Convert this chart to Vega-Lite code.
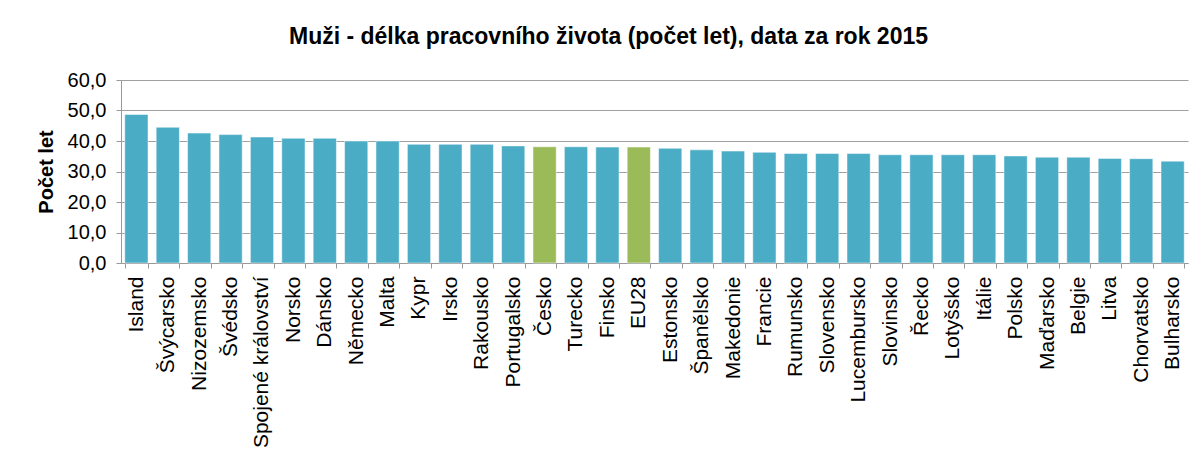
{
  "$schema": "https://vega.github.io/schema/vega-lite/v6.json",
  "autosize": {"type": "none"},
  "padding": {"left": 121, "top": 80, "right": 13, "bottom": 192},
  "width": 1067,
  "height": 183,
  "background": "white",
  "title": {
    "text": "Muži - délka pracovního života (počet let), data za rok 2015",
    "font": "Liberation Sans",
    "fontSize": 23,
    "fontWeight": "bold",
    "color": "#000000",
    "anchor": "middle",
    "baseline": "alphabetic",
    "offset": 3,
    "dx": -46
  },
  "data": {
    "values": [
      {"zeme": "Island", "roky": 48.7, "skupina": "ostatni"},
      {"zeme": "Švýcarsko", "roky": 44.5, "skupina": "ostatni"},
      {"zeme": "Nizozemsko", "roky": 42.6, "skupina": "ostatni"},
      {"zeme": "Švédsko", "roky": 42.1, "skupina": "ostatni"},
      {"zeme": "Spojené království", "roky": 41.3, "skupina": "ostatni"},
      {"zeme": "Norsko", "roky": 40.9, "skupina": "ostatni"},
      {"zeme": "Dánsko", "roky": 40.9, "skupina": "ostatni"},
      {"zeme": "Německo", "roky": 40.0, "skupina": "ostatni"},
      {"zeme": "Malta", "roky": 40.0, "skupina": "ostatni"},
      {"zeme": "Kypr", "roky": 38.9, "skupina": "ostatni"},
      {"zeme": "Irsko", "roky": 38.9, "skupina": "ostatni"},
      {"zeme": "Rakousko", "roky": 38.9, "skupina": "ostatni"},
      {"zeme": "Portugalsko", "roky": 38.4, "skupina": "ostatni"},
      {"zeme": "Česko", "roky": 38.1, "skupina": "zvyrazneno"},
      {"zeme": "Turecko", "roky": 38.1, "skupina": "ostatni"},
      {"zeme": "Finsko", "roky": 38.0, "skupina": "ostatni"},
      {"zeme": "EU28", "roky": 38.0, "skupina": "zvyrazneno"},
      {"zeme": "Estonsko", "roky": 37.6, "skupina": "ostatni"},
      {"zeme": "Španělsko", "roky": 37.1, "skupina": "ostatni"},
      {"zeme": "Makedonie", "roky": 36.7, "skupina": "ostatni"},
      {"zeme": "Francie", "roky": 36.3, "skupina": "ostatni"},
      {"zeme": "Rumunsko", "roky": 35.9, "skupina": "ostatni"},
      {"zeme": "Slovensko", "roky": 35.9, "skupina": "ostatni"},
      {"zeme": "Lucembursko", "roky": 35.9, "skupina": "ostatni"},
      {"zeme": "Slovinsko", "roky": 35.5, "skupina": "ostatni"},
      {"zeme": "Řecko", "roky": 35.5, "skupina": "ostatni"},
      {"zeme": "Lotyšsko", "roky": 35.5, "skupina": "ostatni"},
      {"zeme": "Itálie", "roky": 35.5, "skupina": "ostatni"},
      {"zeme": "Polsko", "roky": 35.1, "skupina": "ostatni"},
      {"zeme": "Maďarsko", "roky": 34.7, "skupina": "ostatni"},
      {"zeme": "Belgie", "roky": 34.7, "skupina": "ostatni"},
      {"zeme": "Litva", "roky": 34.3, "skupina": "ostatni"},
      {"zeme": "Chorvatsko", "roky": 34.2, "skupina": "ostatni"},
      {"zeme": "Bulharsko", "roky": 33.4, "skupina": "ostatni"}
    ]
  },
  "mark": {"type": "bar", "stroke": "#ffffff", "strokeWidth": 0.5},
  "encoding": {
    "x": {
      "field": "zeme",
      "type": "nominal",
      "sort": null,
      "scale": {"paddingInner": 0.26, "paddingOuter": 0.12},
      "axis": {
        "title": null,
        "labelAngle": 270,
        "labelFont": "Liberation Sans",
        "labelFontSize": 21,
        "labelColor": "#000000",
        "labelPadding": 8,
        "labelOverlap": false,
        "labelBound": false,
        "tickBand": "extent",
        "tickSize": 5,
        "tickColor": "#999999",
        "domainColor": "#999999",
        "grid": false
      }
    },
    "y": {
      "field": "roky",
      "type": "quantitative",
      "scale": {"domain": [0, 60], "nice": false},
      "axis": {
        "title": "Počet let",
        "titleFont": "Liberation Sans",
        "titleFontSize": 20,
        "titleFontWeight": "bold",
        "titleColor": "#000000",
        "titleAngle": 270,
        "titleX": -75,
        "titleY": 91.5,
        "titleAlign": "center",
        "titleBaseline": "middle",
        "values": [0, 10, 20, 30, 40, 50, 60],
        "labelExpr": "replace(format(datum.value, '.1f'), '.', ',')",
        "labelFont": "Liberation Sans",
        "labelFontSize": 20,
        "labelColor": "#000000",
        "labelPadding": 10,
        "tickSize": 5,
        "tickColor": "#999999",
        "domainColor": "#999999",
        "grid": true,
        "gridColor": "#a0a0a0",
        "gridWidth": 1.2
      }
    },
    "color": {
      "field": "skupina",
      "type": "nominal",
      "scale": {"domain": ["ostatni", "zvyrazneno"], "range": ["#4BACC6", "#9BBB59"]},
      "legend": null
    }
  },
  "config": {
    "view": {"stroke": null}
  }
}
